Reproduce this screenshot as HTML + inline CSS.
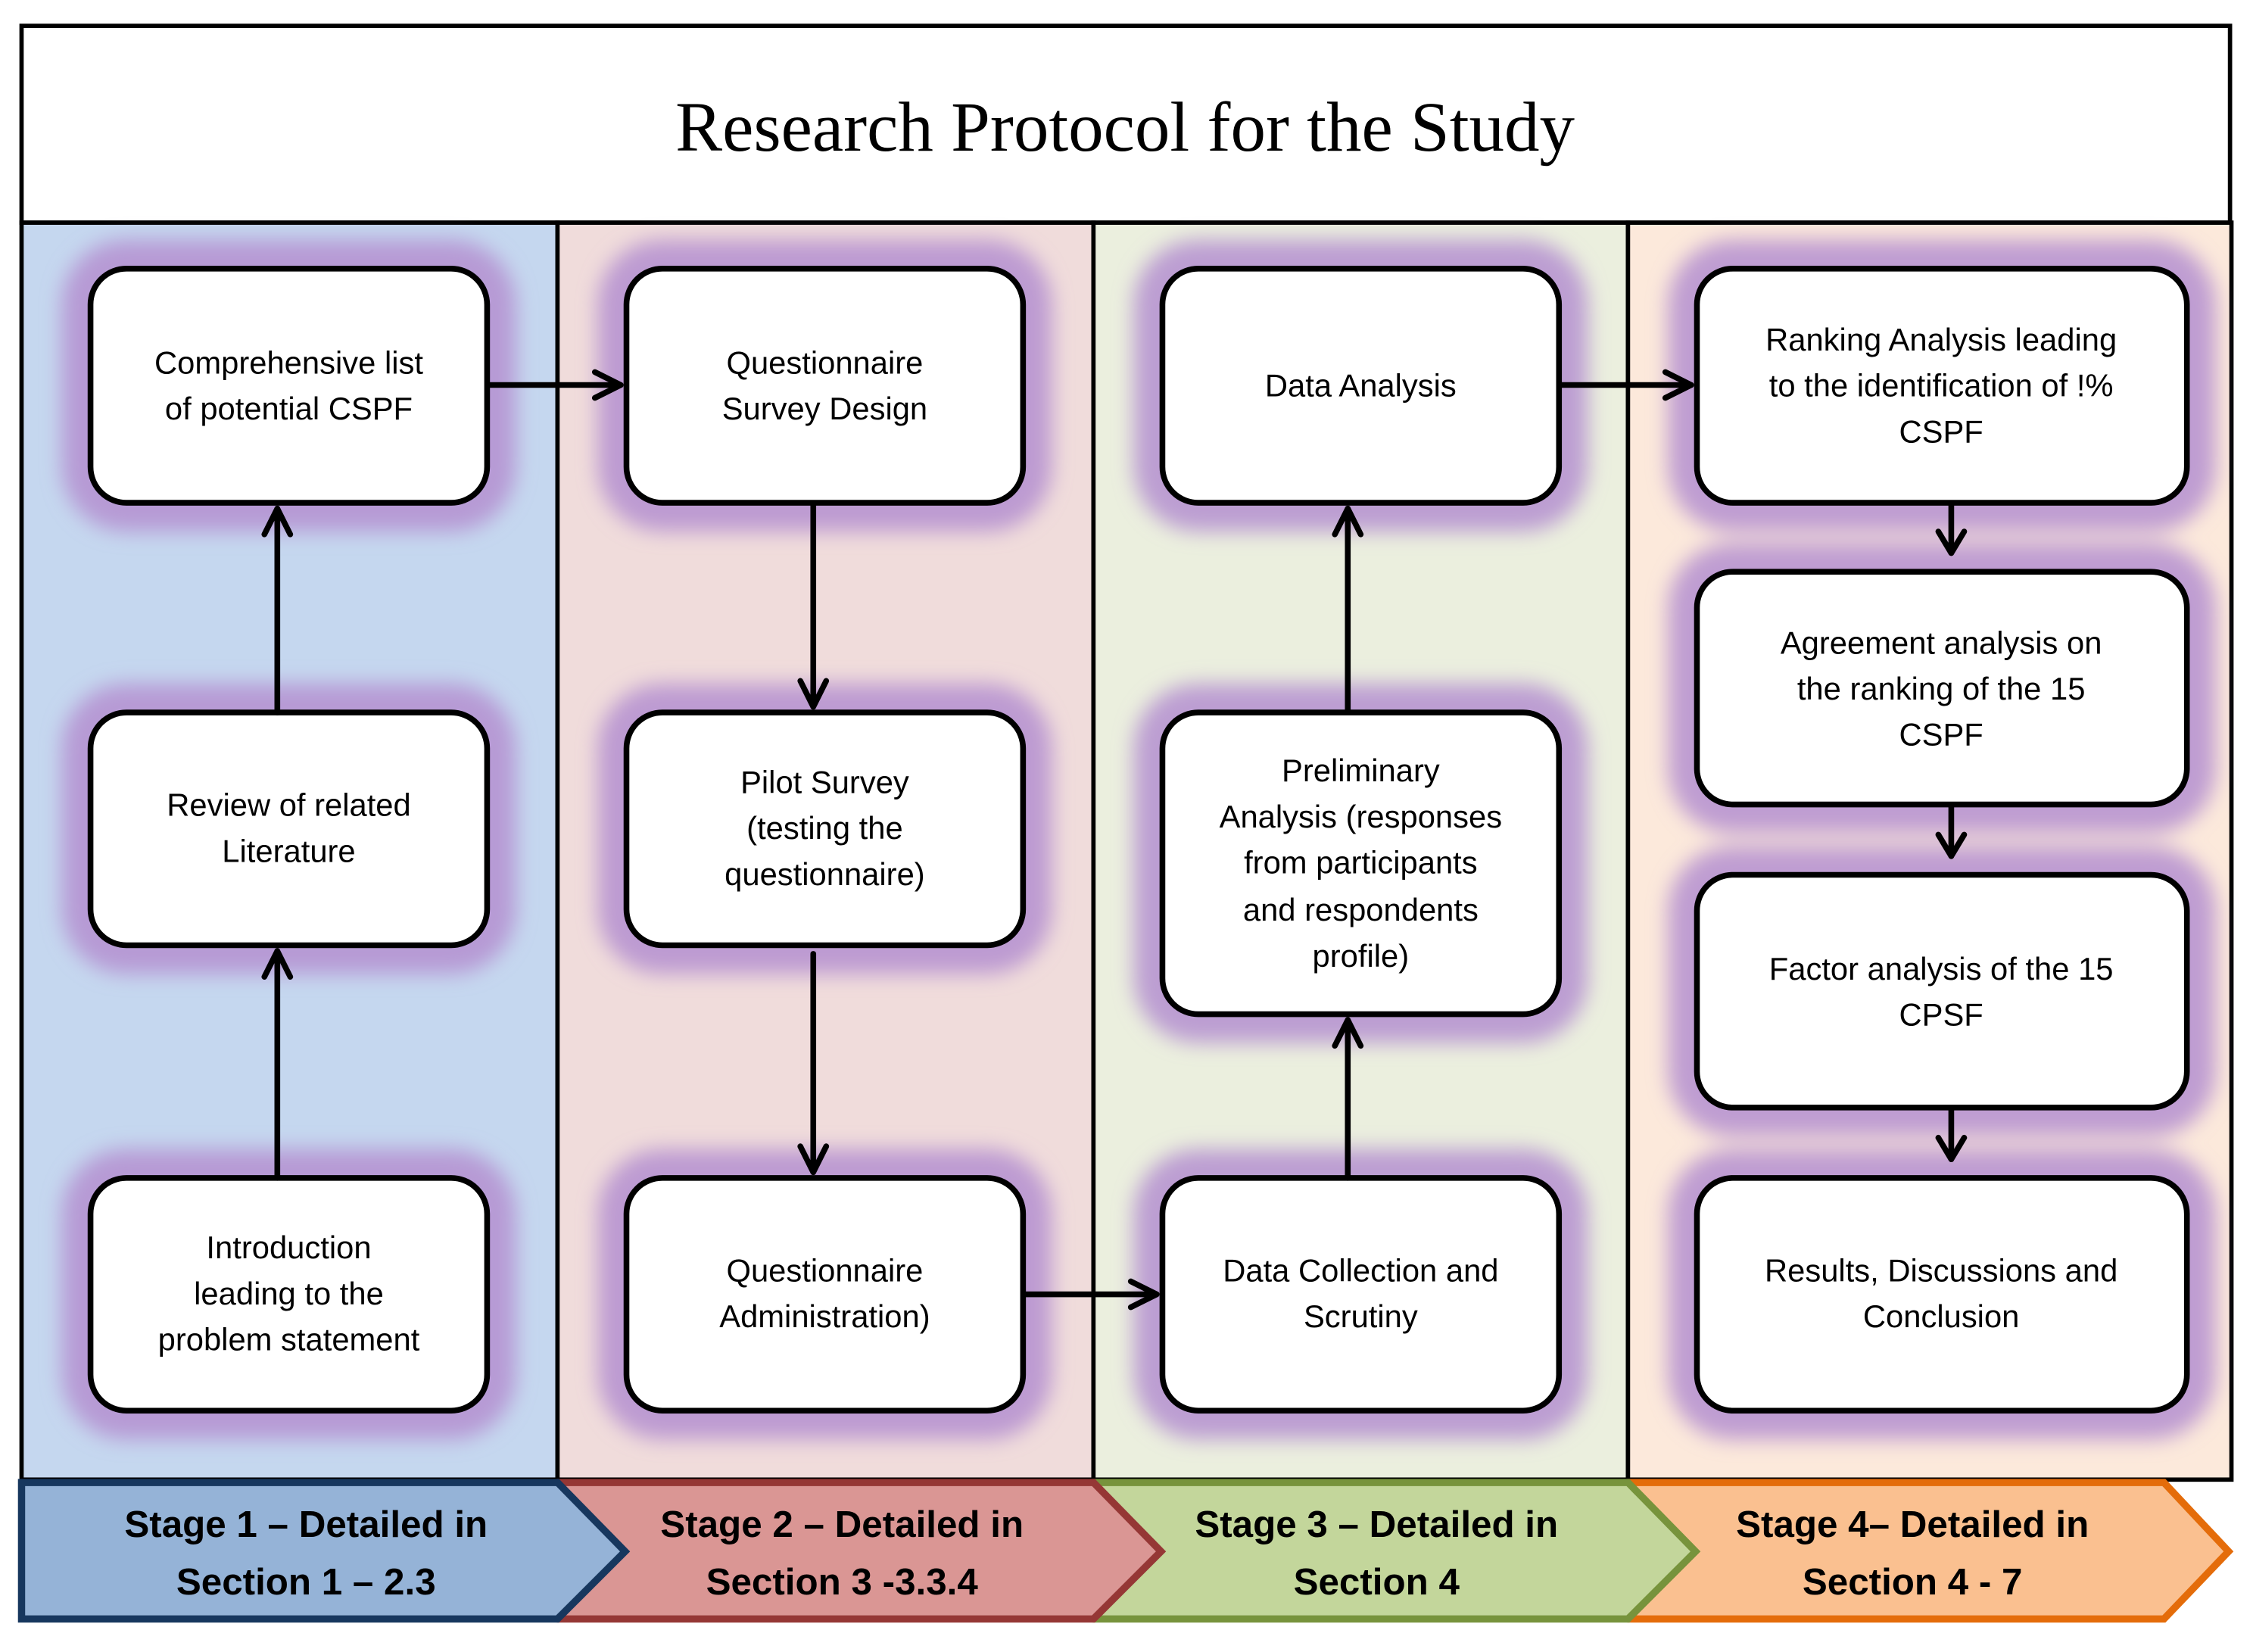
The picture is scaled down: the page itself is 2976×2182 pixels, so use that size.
<!DOCTYPE html>
<html><head><meta charset="utf-8"><style>
html,body{margin:0;padding:0;background:#fff;width:2976px;height:2182px;overflow:hidden}
svg{display:block}
.t{font-family:"Liberation Sans",sans-serif;font-size:22px;fill:#000;text-anchor:middle}
.s{font-family:"Liberation Sans",sans-serif;font-size:26px;font-weight:bold;fill:#000;text-anchor:middle}
</style></head><body>
<svg width="2976" height="2182" viewBox="0 0 1568 1150" preserveAspectRatio="none" xmlns="http://www.w3.org/2000/svg">
<defs>
<filter id="g" x="-30%" y="-30%" width="160%" height="160%"><feGaussianBlur stdDeviation="7"/></filter>
</defs>
<rect x="15" y="18" width="1537" height="137" fill="#fff" stroke="#000" stroke-width="3"/>
<text x="783" y="105" style="font-family:'Liberation Serif',serif;font-size:49px;text-anchor:middle">Research Protocol for the Study</text>
<rect x="15" y="155" width="373" height="875" fill="#c5d7ef" stroke="#000" stroke-width="3"/>
<rect x="388" y="155" width="373" height="875" fill="#f0dcdb" stroke="#000" stroke-width="3"/>
<rect x="761" y="155" width="372" height="875" fill="#ebefde" stroke="#000" stroke-width="3"/>
<rect x="1133" y="155" width="420" height="875" fill="#fce9db" stroke="#000" stroke-width="3"/>
<g fill="none" stroke="#b48fd0" stroke-opacity="0.85" stroke-width="40" filter="url(#g)">
<rect x="63" y="187" width="276" height="163" rx="25"/><rect x="63" y="496" width="276" height="162" rx="25"/><rect x="63" y="820" width="276" height="162" rx="25"/>
<rect x="436" y="187" width="276" height="163" rx="25"/><rect x="436" y="496" width="276" height="162" rx="25"/><rect x="436" y="820" width="276" height="162" rx="25"/>
<rect x="809" y="187" width="276" height="163" rx="25"/><rect x="809" y="496" width="276" height="210" rx="25"/><rect x="809" y="820" width="276" height="162" rx="25"/>
<rect x="1181" y="187" width="341" height="163" rx="25"/><rect x="1181" y="398" width="341" height="162" rx="25"/><rect x="1181" y="609" width="341" height="162" rx="25"/><rect x="1181" y="820" width="341" height="162" rx="25"/>
</g>
<g fill="#fff" stroke="#000" stroke-width="4">
<rect x="63" y="187" width="276" height="163" rx="25"/><rect x="63" y="496" width="276" height="162" rx="25"/><rect x="63" y="820" width="276" height="162" rx="25"/>
<rect x="436" y="187" width="276" height="163" rx="25"/><rect x="436" y="496" width="276" height="162" rx="25"/><rect x="436" y="820" width="276" height="162" rx="25"/>
<rect x="809" y="187" width="276" height="163" rx="25"/><rect x="809" y="496" width="276" height="210" rx="25"/><rect x="809" y="820" width="276" height="162" rx="25"/>
<rect x="1181" y="187" width="341" height="163" rx="25"/><rect x="1181" y="398" width="341" height="162" rx="25"/><rect x="1181" y="609" width="341" height="162" rx="25"/><rect x="1181" y="820" width="341" height="162" rx="25"/>
</g>
<g stroke="#000" stroke-width="4" fill="none" stroke-linecap="round" stroke-linejoin="round">
<line x1="193" y1="820" x2="193" y2="662"/><polyline points="184,680 193,662 202,680"/>
<line x1="193" y1="496" x2="193" y2="354"/><polyline points="184,372 193,354 202,372"/>
<line x1="341" y1="268" x2="432" y2="268"/><polyline points="414,259 432,268 414,277"/>
<line x1="566" y1="352" x2="566" y2="492"/><polyline points="557,474 566,492 575,474"/>
<line x1="566" y1="664" x2="566" y2="816"/><polyline points="557,798 566,816 575,798"/>
<line x1="714" y1="901" x2="805" y2="901"/><polyline points="787,892 805,901 787,910"/>
<line x1="938" y1="820" x2="938" y2="710"/><polyline points="929,728 938,710 947,728"/>
<line x1="938" y1="494" x2="938" y2="354"/><polyline points="929,372 938,354 947,372"/>
<line x1="1087" y1="268" x2="1177" y2="268"/><polyline points="1159,259 1177,268 1159,277"/>
<line x1="1358" y1="352" x2="1358" y2="385"/><polyline points="1349,370 1358,385 1367,370"/>
<line x1="1358" y1="562" x2="1358" y2="596"/><polyline points="1349,581 1358,596 1367,581"/>
<line x1="1358" y1="773" x2="1358" y2="807"/><polyline points="1349,792 1358,807 1367,792"/>
</g>
<g>
<text class="t" x="201" y="260">Comprehensive list</text><text class="t" x="201" y="292">of potential CSPF</text>
<text class="t" x="201" y="568">Review of related</text><text class="t" x="201" y="600">Literature</text>
<text class="t" x="201" y="876">Introduction</text><text class="t" x="201" y="908">leading to the</text><text class="t" x="201" y="940">problem statement</text>
<text class="t" x="574" y="260">Questionnaire</text><text class="t" x="574" y="292">Survey Design</text>
<text class="t" x="574" y="552">Pilot Survey</text><text class="t" x="574" y="584">(testing the</text><text class="t" x="574" y="616">questionnaire)</text>
<text class="t" x="574" y="892">Questionnaire</text><text class="t" x="574" y="924">Administration)</text>
<text class="t" x="947" y="276">Data Analysis</text>
<text class="t" x="947" y="544">Preliminary</text><text class="t" x="947" y="576">Analysis (responses</text><text class="t" x="947" y="608">from participants</text><text class="t" x="947" y="641">and respondents</text><text class="t" x="947" y="673">profile)</text>
<text class="t" x="947" y="892">Data Collection and</text><text class="t" x="947" y="924">Scrutiny</text>
<text class="t" x="1351" y="244">Ranking Analysis leading</text><text class="t" x="1351" y="276">to the identification of !%</text><text class="t" x="1351" y="308">CSPF</text>
<text class="t" x="1351" y="455">Agreement analysis on</text><text class="t" x="1351" y="487">the ranking of the 15</text><text class="t" x="1351" y="519">CSPF</text>
<text class="t" x="1351" y="682">Factor analysis of the 15</text><text class="t" x="1351" y="714">CPSF</text>
<text class="t" x="1351" y="892">Results, Discussions and</text><text class="t" x="1351" y="924">Conclusion</text>
</g>
<g stroke-width="5" stroke-linejoin="miter">
<polygon points="1135,1032 1506,1032 1551,1080 1506,1127 1135,1127" fill="#fac090" stroke="#e46c0a"/>
<polygon points="763,1032 1133,1032 1180,1080 1133,1127 763,1127" fill="#c3d69b" stroke="#77933c"/>
<polygon points="390,1032 761,1032 808,1080 761,1127 390,1127" fill="#da9694" stroke="#953735"/>
<polygon points="15,1032 388,1032 435,1080 388,1127 15,1127" fill="#95b3d7" stroke="#17375e"/>
</g>
<text class="s" x="213" y="1070">Stage 1 – Detailed in</text><text class="s" x="213" y="1110">Section 1 – 2.3</text>
<text class="s" x="586" y="1070">Stage 2 – Detailed in</text><text class="s" x="586" y="1110">Section 3 -3.3.4</text>
<text class="s" x="958" y="1070">Stage 3 – Detailed in</text><text class="s" x="958" y="1110">Section 4</text>
<text class="s" x="1331" y="1070">Stage 4– Detailed in</text><text class="s" x="1331" y="1110">Section 4 - 7</text>
</svg>
</body></html>
